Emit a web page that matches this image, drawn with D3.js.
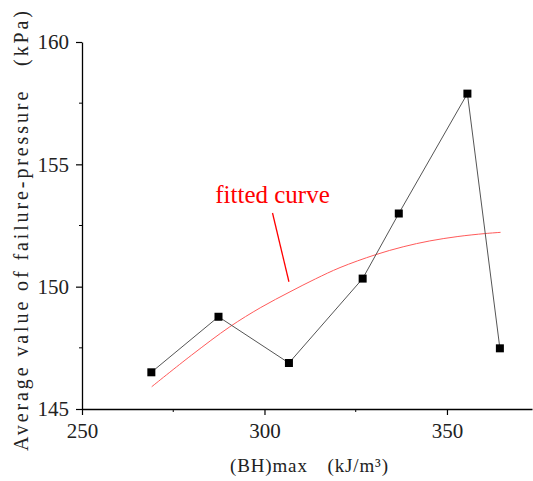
<!DOCTYPE html>
<html lang="en">
<head>
    <meta charset="UTF-8">
    <title>Failure pressure vs (BH)max</title>
    <script src="https://d3js.org/d3.v7.min.js"></script>
    <style>
        body { margin: 0; background: #fff; }
        svg { display: block; }
    </style>
</head>
<body>
    <div id="chart"></div>

    <script type="text/javascript">
        // measured points
        var bhMax = [269, 287.4, 306.7, 326.9, 336.8, 355.6, 364.5];
        var pressure = [146.5, 148.77, 146.88, 150.33, 152.99, 157.89, 147.48];

        // fitted curve
        var fitX = [269.1, 280, 290.5, 299, 307, 314, 320.7, 330.3, 338, 345.3, 353, 360.4, 364.7];
        var fitY = [145.91, 147.2, 148.36, 149.15, 149.79, 150.32, 150.78, 151.3, 151.63, 151.87, 152.05, 152.17, 152.22];

        var xTicks = [250, 300, 350];
        var yTicks = [145, 150, 155, 160];
        var xMinor = [275, 325];
        var yMinor = [147.5, 152.5, 157.5];

        var width = 533, height = 481;

        var x = d3.scaleLinear().domain([250, 373.3]).range([82, 532]);
        var y = d3.scaleLinear().domain([145, 160]).range([409, 42]);

        var svg = d3.select("#chart").append("svg")
            .attr("width", width)
            .attr("height", height);

        var serif = "'Liberation Serif', 'Times New Roman', serif";

        // x axis
        var xAxis = svg.append("g")
            .attr("transform", "translate(0," + y(145) + ")")
            .call(d3.axisBottom(x).tickValues(xTicks).tickSize(6).tickPadding(8).tickSizeOuter(0));
        xAxis.append("g").selectAll("line")
            .data(xMinor).enter().append("line")
            .attr("x1", d => x(d)).attr("x2", d => x(d))
            .attr("y1", 0).attr("y2", 3)
            .attr("stroke", "#000");

        // y axis
        var yAxis = svg.append("g")
            .attr("transform", "translate(" + x(250) + ",0)")
            .call(d3.axisLeft(y).tickValues(yTicks).tickSize(6).tickPadding(7).tickSizeOuter(0));
        yAxis.append("g").selectAll("line")
            .data(yMinor).enter().append("line")
            .attr("y1", d => y(d)).attr("y2", d => y(d))
            .attr("x1", 0).attr("x2", -3)
            .attr("stroke", "#000");

        svg.selectAll(".domain").attr("stroke", "#000").attr("stroke-width", 1.3);
        svg.selectAll(".tick line").attr("stroke", "#000").attr("stroke-width", 1.2);
        xAxis.attr("font-family", serif);
        yAxis.attr("font-family", serif);
        svg.selectAll(".tick text")
            .style("font-family", serif)
            .style("font-size", "21px")
            .attr("fill", "#222");

        // axis titles
        svg.append("text")
            .attr("x", 309)
            .attr("y", 472)
            .attr("text-anchor", "middle")
            .attr("textLength", 158)
            .attr("lengthAdjust", "spacing")
            .style("font-family", serif)
            .style("font-size", "19px")
            .attr("fill", "#222")
            .text("(BH)max\u3000(kJ/m\u00b3)");

        svg.append("text")
            .attr("transform", "translate(28,231) rotate(-90)")
            .attr("text-anchor", "middle")
            .attr("textLength", 440)
            .attr("lengthAdjust", "spacing")
            .style("font-family", serif)
            .style("font-size", "20px")
            .attr("fill", "#222")
            .text("Average value of failure-pressure\u3000(kPa)");

        // fitted curve
        var fitPts = fitX.map((d, i) => [d, fitY[i]]);
        svg.append("path")
            .datum(fitPts)
            .attr("fill", "none")
            .attr("stroke", "#ff5a5a")
            .attr("stroke-width", 1)
            .attr("d", d3.line().x(d => x(d[0])).y(d => y(d[1])).curve(d3.curveCatmullRom));

        // data line + markers
        var pts = bhMax.map((d, i) => [d, pressure[i]]);
        svg.append("path")
            .datum(pts)
            .attr("fill", "none")
            .attr("stroke", "#555")
            .attr("stroke-width", 1)
            .attr("d", d3.line().x(d => x(d[0])).y(d => y(d[1])));

        svg.selectAll("rect.pt")
            .data(pts).enter().append("rect")
            .attr("class", "pt")
            .attr("x", d => x(d[0]) - 4)
            .attr("y", d => y(d[1]) - 4)
            .attr("width", 8)
            .attr("height", 8)
            .attr("fill", "#000");

        // annotation
        svg.append("text")
            .attr("x", x(302.2))
            .attr("y", y(153.42))
            .attr("text-anchor", "middle")
            .style("font-family", serif)
            .style("font-size", "25px")
            .attr("fill", "#ff0000")
            .text("fitted curve");

        svg.append("line")
            .attr("x1", x(302.2)).attr("y1", y(153.01))
            .attr("x2", x(306.7)).attr("y2", y(150.2))
            .attr("stroke", "#ff0000")
            .attr("stroke-width", 1.3);
    </script>
</body>
</html>
